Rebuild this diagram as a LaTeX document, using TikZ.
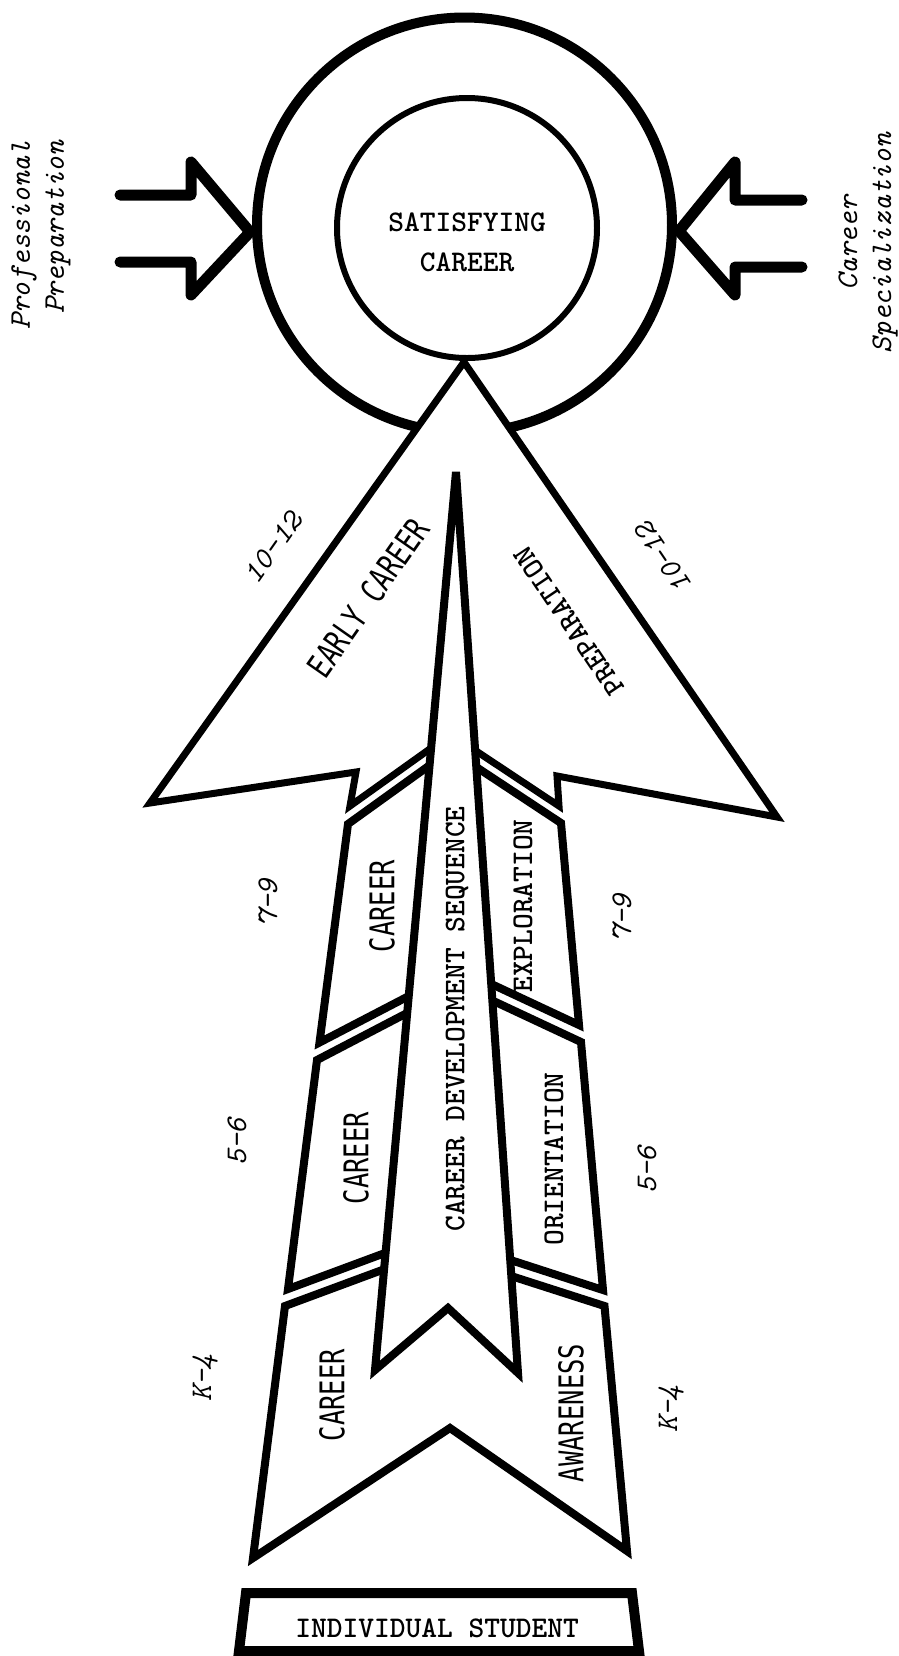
\documentclass[tikz,border=0pt]{standalone}
\usepackage{fontspec}
\usepackage{graphicx}
\newfontfamily\gothicfont{DejaVu Sans Mono}
\newcommand\typerfont{\fontsize{15}{20}\selectfont\ttfamily\bfseries}
\newcommand\handfont{\fontsize{15}{17}\selectfont\ttfamily\itshape}
\newcommand\narrowfont{\fontsize{17}{20}\selectfont\gothicfont}
\newcommand\narrowtext[1]{\scalebox{0.75}[1]{#1}}

\begin{document}
\begin{tikzpicture}[x=0.5pt,y=-0.5pt,
  band/.style={draw,line width=4pt,fill=white},
  feed/.style={draw,line width=5.5pt,line cap=round,line join=round},
  word/.style={font=\typerfont,inner sep=0pt},
  gword/.style={font=\narrowfont,inner sep=0pt},
  tag/.style={font=\handfont,inner sep=0pt},
  up/.style={rotate=90}]
  \fill[white] (0,0) rectangle (899,1656);
  \useasboundingbox (0,0) rectangle (899,1656);

  % goal rings
  \node[circle,draw,line width=5pt,minimum size=207.5pt,inner sep=0pt] (ring) at (464.5,225) {};
  % 10-12 head
  \draw[band,line width=3.5pt] (464,362) -- (150,803) -- (356,772) -- (350,806) -- (455,731)
    -- (455,737) -- (559,806) -- (557,776) -- (777,817) -- cycle;
  \node[circle,draw,line width=3pt,minimum size=130pt,inner sep=0pt] (core) at (467,228) {};
  \node[word,align=center] (goal) at (467,242) {SATISFYING\\CAREER};

  % side inputs
  \draw[feed] (120,195) -- (191,195) -- (191,162) -- (250,232) -- (191,295) -- (191,262) -- (120,262);
  \draw[feed] (802,200) -- (735,200) -- (735,162) -- (679,231) -- (735,295) -- (735,267) -- (802,267);
  \node[tag,up,align=right] (prof) at (41,235) {Professional\\Preparation};
  \node[tag,up,align=center] (spec) at (868,243) {Career\\Specialization};

  % grade bands
  \draw[band] (348,824) -- (455,747) -- (455,753) -- (561,823) -- (579,1025) -- (455,967)
    -- (455,972) -- (319.5,1042.5) -- cycle;
  \draw[band] (317,1060) -- (455,988) -- (455,983) -- (581,1042) -- (603,1290) -- (455,1242)
    -- (455,1227) -- (288,1289) -- cycle;
  \draw[band] (285,1306) -- (455,1243) -- (455,1258) -- (604.5,1306) -- (627,1551) -- (450,1428)
    -- (253,1558) -- cycle;
  % central spike
  \draw[band] (456,472) -- (518,1373) -- (448,1308) -- (375,1370) -- cycle;

  % base
  \draw[line width=5pt] (246,1593) -- (632,1593) -- (639,1651) -- (239,1651) -- cycle;
  \node[word] (student) at (437,1628) {INDIVIDUAL STUDENT};

  % labels
  \node[tag,rotate=55] (g12l) at (273,548) {10-12};
  \node[gword,rotate=55] (early) at (368,598) {\narrowtext{EARLY CAREER}};
  \node[word,rotate=124] (prep) at (569,621) {PREPARATION};
  \node[tag,rotate=124] (g12r) at (664,558) {10-12};
  \node[word,up] (seq) at (457,1019) {CAREER DEVELOPMENT SEQUENCE};
  \node[gword,up] (c79) at (382,906) {\narrowtext{CAREER}};
  \node[word,up] (expl) at (523,906) {EXPLORATION};
  \node[gword,up] (c56) at (356,1158) {\narrowtext{CAREER}};
  \node[word,up] (orie) at (554,1159) {ORIENTATION};
  \node[gword,up] (c4) at (332,1395) {\narrowtext{CAREER}};
  \node[gword,up] (awar) at (571,1413) {\narrowtext{AWARENESS}};
  \node[tag,up] (g79l) at (268,903) {7-9};
  \node[tag,up] (g56l) at (237,1142) {5-6};
  \node[tag,up] (g4l) at (205,1378) {K-4};
  \node[tag,up] (g79r) at (622,918) {7-9};
  \node[tag,up] (g56r) at (647,1170) {5-6};
  \node[tag,up] (g4r) at (671,1409) {K-4};
\end{tikzpicture}
\end{document}
